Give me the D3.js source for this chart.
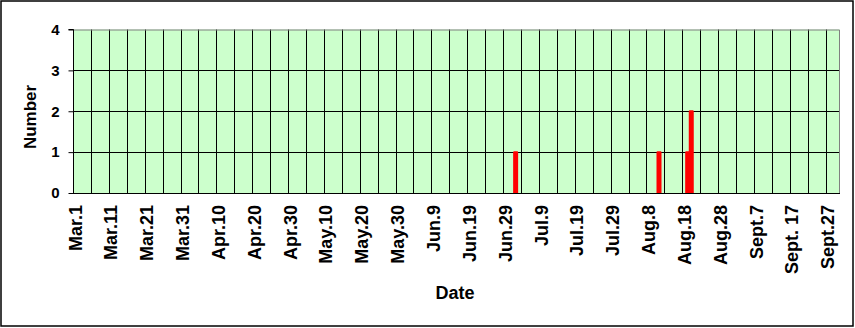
<!DOCTYPE html>
<html>
<head>
<meta charset="utf-8">
<script src="https://cdn.jsdelivr.net/npm/d3@7"></script>
<style>
  html, body { margin: 0; padding: 0; background: #fff; }
  svg { display: block; font-family: Arial, "Liberation Sans", sans-serif; }
</style>
</head>
<body>
<svg id="chart" width="855" height="328"></svg>
<script>
// Category axis: one category per day, Mar.1 .. Sept.30
const monthNames = ["Mar", "Apr", "May", "Jun", "Jul", "Aug", "Sept"];
const monthDays = [31, 30, 31, 30, 31, 31, 30];
const categories = [];
monthNames.forEach((m, i) => {
  for (let d = 1; d <= monthDays[i]; d++) categories.push(m + "." + d);
});

// Tick labels shown on the x axis (every 10th day)
const tickLabels = ["Mar.1", "Mar.11", "Mar.21", "Mar.31", "Apr.10", "Apr.20", "Apr.30",
  "May.10", "May.20", "May.30", "Jun.9", "Jun.19", "Jun.29", "Jul.9", "Jul.19", "Jul.29",
  "Aug.8", "Aug.18", "Aug.28", "Sept.7", "Sept.17", "Sept.27"];
const tickDisplay = ["Mar.1", "Mar.11", "Mar.21", "Mar.31", "Apr.10", "Apr.20", "Apr.30",
  "May.10", "May.20", "May.30", "Jun.9", "Jun.19", "Jun.29", "Jul.9", "Jul.19", "Jul.29",
  "Aug.8", "Aug.18", "Aug.28", "Sept.7", "Sept. 17", "Sept.27"];

// Series: days with non-zero counts
const eventDates = ["Jul.2", "Aug.11", "Aug.19", "Aug.20"];
const eventCounts = [1, 1, 1, 2];

const yTicks = [0, 1, 2, 3, 4];

const svg = d3.select("#chart");
const plot = { left: 73, top: 29.5, right: 840, bottom: 193 };

const x = d3.scaleBand().domain(categories).range([plot.left, plot.right]).padding(0);
const y = d3.scaleLinear().domain([0, 4]).range([plot.bottom, plot.top]);

// outer frame
svg.append("rect").attr("x", 1).attr("y", 1).attr("width", 852).attr("height", 325)
  .attr("fill", "#fff").attr("stroke", "#000").attr("stroke-width", 1.5);

// plot background
svg.append("rect").attr("x", plot.left).attr("y", plot.top)
  .attr("width", plot.right - plot.left).attr("height", plot.bottom - plot.top)
  .attr("fill", "#CCFFCC");

// vertical gridlines every 5 categories
const vIdx = d3.range(5, categories.length, 5);
svg.append("g").selectAll("line").data(vIdx).join("line")
  .attr("x1", i => Math.round(x(categories[i])) + 0.5)
  .attr("x2", i => Math.round(x(categories[i])) + 0.5)
  .attr("y1", plot.top).attr("y2", plot.bottom)
  .attr("stroke", "#000").attr("stroke-width", 1);

// horizontal gridlines
svg.append("g").selectAll("line").data(yTicks.filter(t => t > 0 && t < 4)).join("line")
  .attr("x1", plot.left).attr("x2", plot.right)
  .attr("y1", t => Math.round(y(t)) + 0.5).attr("y2", t => Math.round(y(t)) + 0.5)
  .attr("stroke", "#000").attr("stroke-width", 1);

// plot border top/right (grey)
svg.append("path")
  .attr("d", `M${plot.left},${plot.top + 0.5}H${plot.right - 0.5}V${plot.bottom}`)
  .attr("fill", "none").attr("stroke", "#808080").attr("stroke-width", 1);

// bars
const bw = 3;
svg.append("g").selectAll("rect").data(eventDates).join("rect")
  .attr("x", (d) => x(d) + x.bandwidth() / 2 - bw / 2)
  .attr("width", bw)
  .attr("y", (d, i) => y(eventCounts[i]))
  .attr("height", (d, i) => y(0) - y(eventCounts[i]))
  .attr("fill", "#FF0000").attr("stroke", "#FF0000").attr("stroke-width", 2)
  .attr("stroke-linejoin", "round");

// y axis
const yAxis = d3.axisLeft(y).tickValues(yTicks).tickSize(5).tickPadding(9).tickFormat(d3.format("d"));
const gy = svg.append("g").attr("transform", `translate(${plot.left + 0.5},0)`).call(yAxis);
gy.select(".domain").attr("stroke", "#000").attr("d", `M-5,${plot.top}H0V${plot.bottom}`);
gy.selectAll(".tick line").attr("stroke", "#000");
gy.selectAll(".tick text").attr("font-size", 15).attr("font-weight", "bold")
  .attr("font-family", "Arial, 'Liberation Sans', sans-serif").attr("fill", "#000");

// x axis line
svg.append("line").attr("x1", plot.left).attr("x2", plot.right)
  .attr("y1", plot.bottom + 0.5).attr("y2", plot.bottom + 0.5)
  .attr("stroke", "#000").attr("stroke-width", 1);

// x tick labels
svg.append("g").selectAll("text").data(tickLabels).join("text")
  .attr("transform", d => `translate(${x(d) + x.bandwidth() / 2 + 0.5},205) rotate(-90)`)
  .attr("text-anchor", "end")
  .attr("dy", "0.35em")
  .attr("font-size", 18).attr("font-weight", "bold").attr("fill", "#000")
  .text((d, i) => tickDisplay[i]);

// axis titles
svg.append("text").attr("transform", "translate(30,117) rotate(-90)")
  .attr("text-anchor", "middle").attr("dy", "0.35em")
  .attr("font-size", 17).attr("font-weight", "bold").text("Number");
svg.append("text").attr("x", 455).attr("y", 293)
  .attr("text-anchor", "middle").attr("dy", "0.35em")
  .attr("font-size", 18).attr("font-weight", "bold").text("Date");
</script>
</body>
</html>
